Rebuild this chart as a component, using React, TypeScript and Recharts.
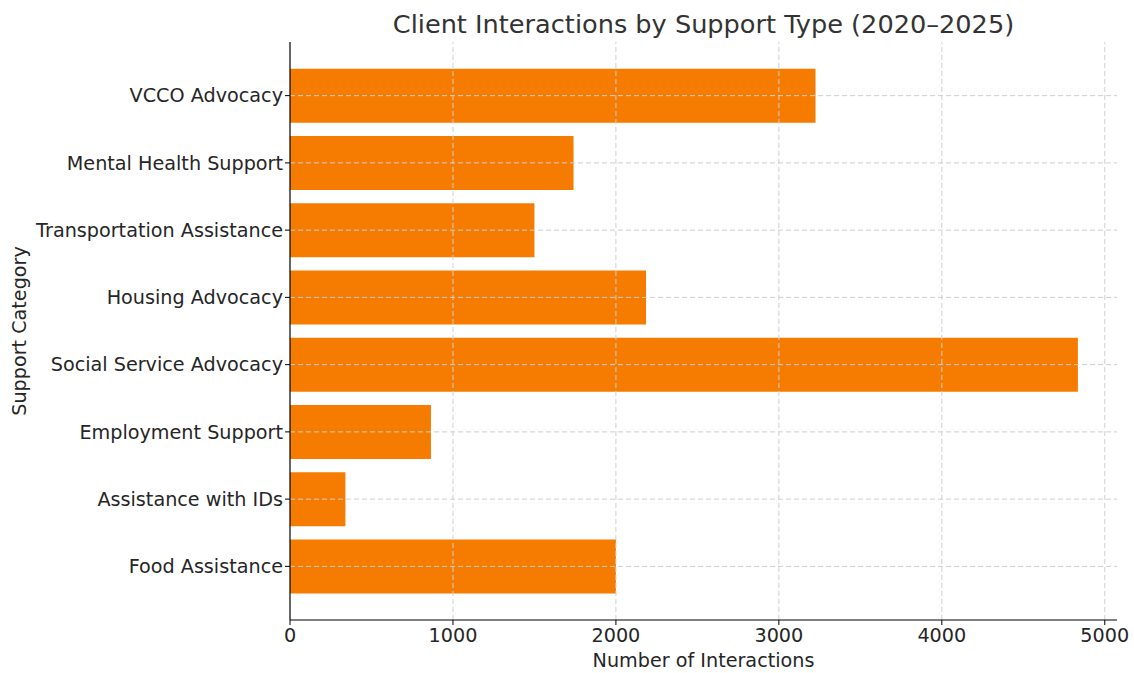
import { BarChart, Bar, XAxis, YAxis, ReferenceLine } from "recharts"

// bottom to top, as in the source figure
const categories = [
  "Food Assistance",
  "Assistance with IDs",
  "Employment Support",
  "Social Service Advocacy",
  "Housing Advocacy",
  "Transportation Assistance",
  "Mental Health Support",
  "VCCO Advocacy",
]
const interactions = [2000, 340, 865, 4835, 2185, 1500, 1740, 3225]
const xTicks = [0, 1000, 2000, 3000, 4000, 5000]

const data = categories.map((category, i) => ({ category, interactions: interactions[i] }))

const font = "'DejaVu Sans', Verdana, sans-serif"
const gridColor = "#cfcfcf"
const tickStyle = { fontSize: 19.2, fill: "#262626", fontFamily: font }

export default function App() {
  return (
    <div style={{ position: "absolute", left: 0, top: 0, width: 1134, height: 673, background: "#fff" }}>
      <div
        style={{
          position: "absolute",
          left: 290,
          width: 827,
          top: 11,
          textAlign: "center",
          fontFamily: font,
          fontSize: 25.6,
          lineHeight: "26px",
          color: "#333",
        }}
      >
        Client Interactions by Support Type (2020–2025)
      </div>
      <BarChart
        width={1134}
        height={673}
        data={data}
        layout="vertical"
        margin={{ top: 42, right: 17, bottom: 0, left: 0 }}
        barCategoryGap="10%"
      >
        <XAxis
          type="number"
          domain={[0, 5075]}
          ticks={xTicks}
          allowDataOverflow
          height={53}
          tick={tickStyle}
          tickSize={5}
          tickMargin={3}
          axisLine={{ stroke: "#000", strokeWidth: 1.2 }}
          tickLine={{ stroke: "#000" }}
          label={{
            value: "Number of Interactions",
            position: "insideBottom",
            offset: 6,
            style: { fontSize: 19.2, fill: "#262626", fontFamily: font },
          }}
        />
        <YAxis
          type="category"
          dataKey="category"
          reversed
          width={290}
          padding={{ top: 20, bottom: 20 }}
          tick={tickStyle}
          tickSize={5}
          tickMargin={2}
          interval={0}
          axisLine={{ stroke: "#000", strokeWidth: 1.2 }}
          tickLine={{ stroke: "#000" }}
          label={{
            value: "Support Category",
            angle: -90,
            position: "insideLeft",
            offset: 19,
            style: { fontSize: 19.2, fill: "#262626", fontFamily: font, textAnchor: "middle" },
          }}
        />
        <Bar dataKey="interactions" fill="#f57c00" isAnimationActive={false} />
        {xTicks.slice(1).map((t) => (
          <ReferenceLine key={t} x={t} stroke={gridColor} strokeDasharray="5 3" strokeWidth={1} />
        ))}
        {categories.map((c) => (
          <ReferenceLine key={c} y={c} stroke={gridColor} strokeDasharray="5 3" strokeWidth={1} />
        ))}
      </BarChart>
    </div>
  )
}
